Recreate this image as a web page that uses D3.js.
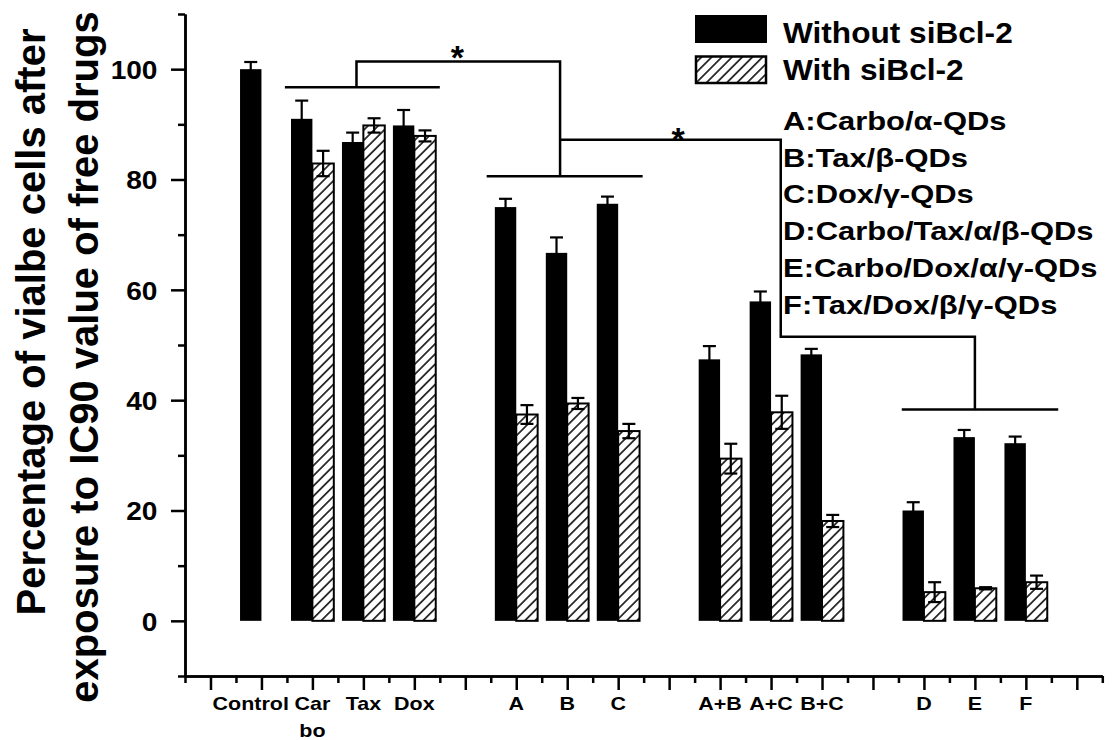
<!DOCTYPE html>
<html>
<head>
<meta charset="utf-8">
<script src="https://cdn.jsdelivr.net/npm/d3@7"></script>
<style>
  html, body { margin: 0; padding: 0; background: #fff; }
  svg { display: block; }
  text { font-family: "Liberation Sans", Arial, sans-serif; font-weight: bold; fill: #000; }
</style>
</head>
<body>
<svg id="chart" width="1116" height="740"></svg>
<script>
// ---------------- data ----------------
const categories = ["Control", "Carbo", "Tax", "Dox", "A", "B", "C", "A+B", "A+C", "B+C", "D", "E", "F"];
const categoryLabels = [["Control"], ["Car", "bo"], ["Tax"], ["Dox"], ["A"], ["B"], ["C"], ["A+B"], ["A+C"], ["B+C"], ["D"], ["E"], ["F"]];
// Origin-style x positions of each group (axis runs 0..36)
const groupX = [3, 5, 7, 9, 13, 15, 17, 21, 23, 25, 29, 31, 33];
const withoutSi = [100, 91.0, 86.8, 89.8, 75.0, 66.7, 75.6, 47.4, 57.9, 48.3, 20.0, 33.3, 32.2];
const withoutSiErr = [1.3, 3.3, 1.7, 2.8, 1.5, 2.8, 1.3, 2.4, 1.8, 1.0, 1.5, 1.3, 1.2];
const withSi = [null, 82.9, 89.8, 87.9, 37.4, 39.4, 34.4, 29.4, 37.8, 18.1, 5.2, 5.9, 7.0];
const withSiErr = [null, 2.3, 1.3, 1.0, 1.7, 1.0, 1.3, 2.7, 3.0, 1.1, 1.8, 0.2, 1.2];
const seriesNames = ["Without siBcl-2", "With siBcl-2"];
const groupKey = ["A:Carbo/\u03b1-QDs", "B:Tax/\u03b2-QDs", "C:Dox/\u03b3-QDs", "D:Carbo/Tax/\u03b1/\u03b2-QDs", "E:Carbo/Dox/\u03b1/\u03b3-QDs", "F:Tax/Dox/\u03b2/\u03b3-QDs"];
const yTickLabels = [0, 20, 40, 60, 80, 100];
const yTitle = ["Percentage of vialbe cells after", "exposure to IC90 value of free drugs"];
// significance brackets (data units: [x, y] points)
const bracket1 = [[3.92, 96.7], [10.0, 96.7]];
const bracket1Stem = [[6.73, 96.7], [6.73, 101.4], [14.72, 101.4], [14.72, 80.6]];
const bracket2 = [[11.84, 80.6], [17.96, 80.6]];
const bracket2Stem = [[14.72, 87.2], [23.38, 87.2], [23.38, 51.5], [31.0, 51.5], [31.0, 38.3]];
const bracket3 = [[28.13, 38.3], [34.27, 38.3]];
const stars = [[10.69, 100.0], [19.35, 85.2]];

// ---------------- layout ----------------
const svg = d3.select("#chart");
const x = d3.scaleLinear().domain([0, 36]).range([185, 1102.3]);
const y = d3.scaleLinear().domain([-10, 110]).range([676, 14]);
const barW = 0.84;

const defs = svg.append("defs");
const pat = defs.append("pattern")
  .attr("id", "hatch").attr("patternUnits", "userSpaceOnUse")
  .attr("width", 7.2).attr("height", 7.2)
  .attr("patternTransform", "rotate(45)");
pat.append("rect").attr("width", 7.2).attr("height", 7.2).attr("fill", "#fff");
pat.append("line").attr("x1", 3.6).attr("x2", 3.6).attr("y1", -1).attr("y2", 9)
  .attr("stroke", "#000").attr("stroke-width", 1.5);

function stretchText(g, px, py, str, size, sx, anchor) {
  return g.append("text")
    .attr("transform", `translate(${px},${py}) scale(${sx},1)`)
    .attr("text-anchor", anchor || "start")
    .style("font-size", size + "px")
    .text(str);
}

// ---------------- bars ----------------
const data = categories.map((c, i) => ({
  c, gx: groupX[i], v1: withoutSi[i], e1: withoutSiErr[i], v2: withSi[i], e2: withSiErr[i]
}));

const gBars = svg.append("g");
gBars.selectAll("rect.black").data(data).join("rect")
  .attr("class", "black")
  .attr("x", d => x(d.gx - barW))
  .attr("width", d => x(d.gx) - x(d.gx - barW))
  .attr("y", d => y(d.v1))
  .attr("height", d => y(0) - y(d.v1))
  .attr("fill", "#000");

const hd = data.filter(d => d.v2 != null);
gBars.selectAll("rect.hatch").data(hd).join("rect")
  .attr("class", "hatch")
  .attr("x", d => x(d.gx))
  .attr("width", d => x(d.gx + barW) - x(d.gx))
  .attr("y", d => y(d.v2))
  .attr("height", d => y(0) - y(d.v2))
  .attr("fill", "url(#hatch)")
  .attr("stroke", "#000").attr("stroke-width", 2);

// error bars
const errs = [];
data.forEach(d => {
  errs.push({ cx: d.gx - barW / 2, v: d.v1, e: d.e1 });
  if (d.v2 != null) errs.push({ cx: d.gx + barW / 2, v: d.v2, e: d.e2 });
});
const cap = 6.5;
const gErr = svg.append("g").attr("stroke", "#000").attr("stroke-width", 2.2).attr("fill", "none");
errs.forEach(d => {
  const cx = x(d.cx);
  gErr.append("line").attr("x1", cx).attr("x2", cx).attr("y1", y(d.v - d.e)).attr("y2", y(d.v + d.e));
  gErr.append("line").attr("x1", cx - cap).attr("x2", cx + cap).attr("y1", y(d.v + d.e)).attr("y2", y(d.v + d.e));
  gErr.append("line").attr("x1", cx - cap).attr("x2", cx + cap).attr("y1", y(d.v - d.e)).attr("y2", y(d.v - d.e));
});

// ---------------- axes ----------------
const yMajor = d3.axisLeft(y).tickValues(yTickLabels).tickSize(14).tickSizeOuter(0).tickFormat(d3.format("d"));
const yMinor = d3.axisLeft(y).tickValues(d3.range(-10, 111, 20)).tickSize(7).tickSizeOuter(0).tickFormat("");
const gyMinor = svg.append("g").attr("transform", `translate(${x(0)},0)`).call(yMinor);
const gy = svg.append("g").attr("transform", `translate(${x(0)},0)`).call(yMajor);
[gy, gyMinor].forEach(g => {
  g.selectAll("path,line").attr("stroke", "#000").attr("stroke-width", 2.5);
});
gy.selectAll("text")
  .style("font-size", "26px").style("font-family", "'Liberation Sans', Arial, sans-serif").style("font-weight", "bold")
  .attr("x", -25.5).attr("dy", "0.36em")
  .attr("transform", "scale(1.08,1)");

const xMajor = d3.axisBottom(x).tickValues(d3.range(1, 36, 2)).tickSize(14).tickSizeOuter(0).tickFormat("");
const xMinor = d3.axisBottom(x).tickValues(d3.range(0, 37, 2)).tickSize(7).tickSizeOuter(0).tickFormat("");
const gx1 = svg.append("g").attr("transform", `translate(0,${y(-10)})`).call(xMinor);
const gx2 = svg.append("g").attr("transform", `translate(0,${y(-10)})`).call(xMajor);
[gx1, gx2].forEach(g => g.selectAll("path,line").attr("stroke", "#000").attr("stroke-width", 2.5));

// x category labels
const gxl = svg.append("g");
data.forEach((d, i) => {
  const cx = d.v2 == null ? x(d.gx - barW / 2) : x(d.gx);
  categoryLabels[i].forEach((ln, j) => {
    stretchText(gxl, cx, 710 + j * 27, ln, 19, 1.13, "middle");
  });
});

// y title
const gt = svg.append("g");
gt.append("text").attr("transform", "translate(45,322) rotate(-90)").attr("text-anchor", "middle")
  .style("font-size", "40px").text(yTitle[0]);
gt.append("text").attr("transform", "translate(98,357) rotate(-90)").attr("text-anchor", "middle")
  .style("font-size", "40px").text(yTitle[1]);

// ---------------- significance brackets ----------------
const line = d3.line().x(p => x(p[0])).y(p => y(p[1]));
const gb = svg.append("g").attr("fill", "none").attr("stroke", "#000").attr("stroke-width", 2.5);
[bracket1, bracket1Stem, bracket2, bracket2Stem, bracket3].forEach(b => gb.append("path").attr("d", line(b)));
stars.forEach(s => {
  svg.append("text").attr("x", x(s[0])).attr("y", y(s[1])).attr("text-anchor", "middle")
    .style("font-size", "34px").text("*");
});

// ---------------- legend ----------------
const gl = svg.append("g");
gl.append("rect").attr("x", 695).attr("y", 15).attr("width", 72).attr("height", 28).attr("fill", "#000");
gl.append("rect").attr("x", 696).attr("y", 56.5).attr("width", 70).attr("height", 26.5)
  .attr("fill", "url(#hatch)").attr("stroke", "#000").attr("stroke-width", 2.5);
stretchText(gl, 783, 42.5, seriesNames[0], 29, 1.09, "start");
stretchText(gl, 783, 80, seriesNames[1], 29, 1.09, "start");
groupKey.forEach((k, i) => {
  stretchText(gl, 783, 130 + i * 36.7, k, 26, 1.19, "start");
});
</script>
</body>
</html>
